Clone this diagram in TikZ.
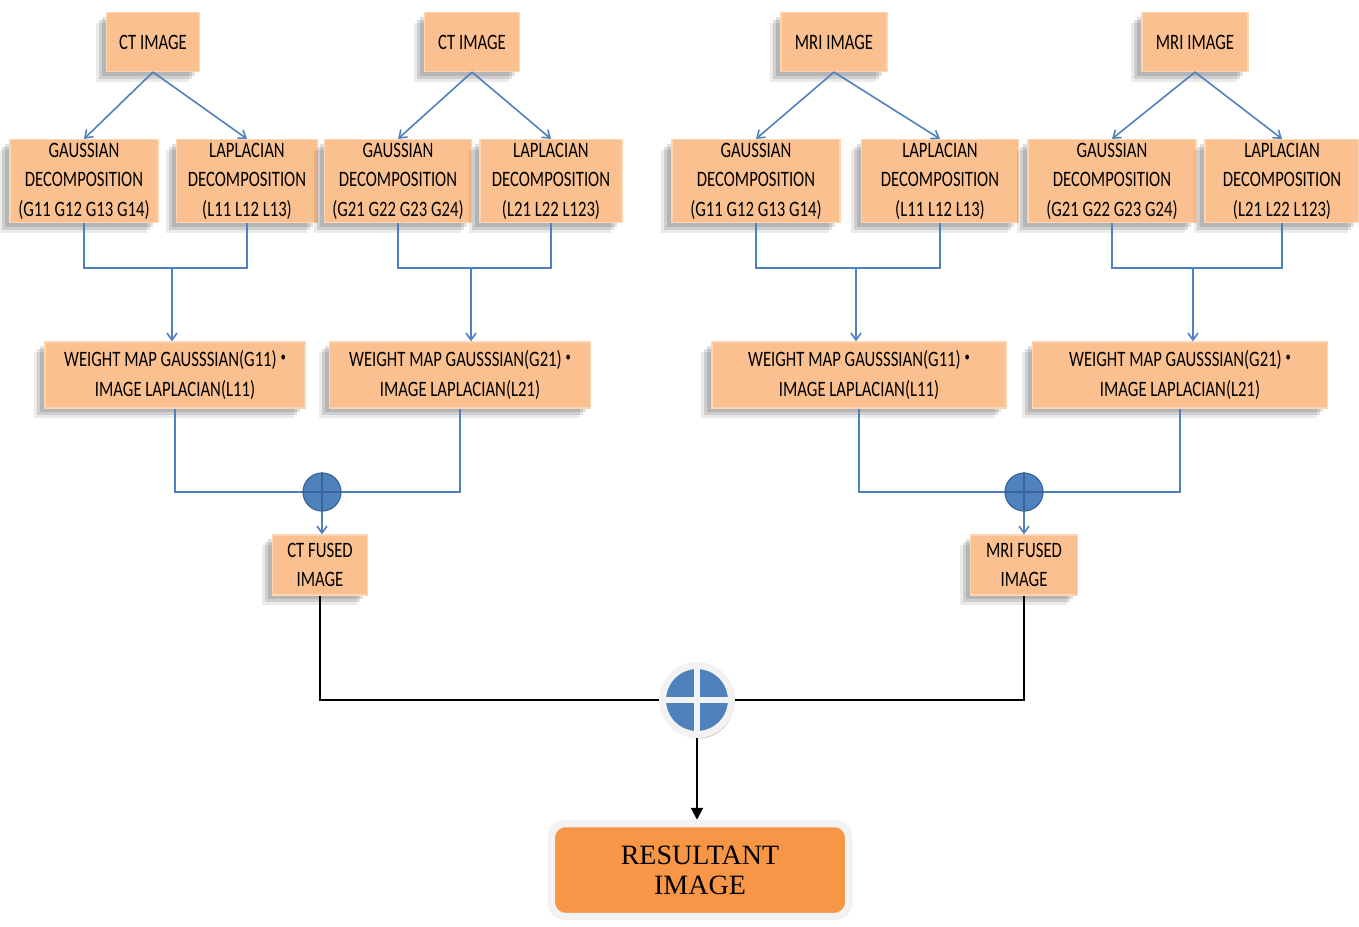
\documentclass[tikz,border=0pt]{standalone}
\usepackage{fontspec}
\usepackage{tikz}
\usetikzlibrary{arrows.meta,positioning,shadows}
\newfontfamily\boxfont{Carlito}[FakeStretch=0.76]
\newfontfamily\resfont{Liberation Serif}
\newcommand{\dotop}{\raisebox{2.5pt}{\fontsize{7}{7}\selectfont\textbullet}}
\definecolor{boxfill}{HTML}{FAC090}
\definecolor{boxedge}{HTML}{FCD5B4}
\definecolor{linkblue}{HTML}{4F81BD}
\definecolor{sumedge}{HTML}{3B6599}
\definecolor{resfill}{HTML}{F79646}
\definecolor{ringgray}{HTML}{F2F2F2}
\definecolor{resshadow}{HTML}{C8A282}

\begin{document}
\begin{tikzpicture}[x=0.5pt, y=-0.5pt, >={Straight Barb[length=3.5pt,width=5pt]},
  every node/.style={font=\boxfont\fontsize{11}{14.8}\selectfont, align=center, inner sep=1pt},
  imgbox/.style={draw=boxedge, fill=boxfill, line width=0.6pt, minimum height=29.5pt,
    drop shadow={shadow xshift=-5.5pt, shadow yshift=-5pt, fill=black, opacity=0.08},
    drop shadow={shadow xshift=-4pt, shadow yshift=-3.5pt, fill=black, opacity=0.12},
    drop shadow={shadow xshift=-2.5pt, shadow yshift=-2pt, fill=black, opacity=0.12}},
  decbox/.style={imgbox, minimum height=41.5pt},
  wbox/.style={imgbox, minimum height=33pt},
  sumnode/.style={circle, draw=sumedge, fill=linkblue, line width=0.6pt, minimum size=19pt},
  link/.style={draw=linkblue, line width=0.8pt},
  fuse/.style={draw=black, line width=1pt}]

  \useasboundingbox (0,0) rectangle (1359,926);

  \node[imgbox, minimum width=46.5pt] (ct1) at (153,42) {CT IMAGE};
  \node[imgbox, minimum width=47.5pt] (ct2) at (472,42) {CT IMAGE};
  \node[imgbox, minimum width=53pt] (mr1) at (834,42) {MRI IMAGE};
  \node[imgbox, minimum width=53pt] (mr2) at (1195,42) {MRI IMAGE};

  \node[decbox, minimum width=74pt] (g1) at (84,181) {GAUSSIAN\\DECOMPOSITION\\(G11 G12 G13 G14)};
  \node[decbox, minimum width=70.5pt] (l1) at (247,181) {LAPLACIAN\\DECOMPOSITION\\(L11 L12 L13)};
  \node[decbox, minimum width=73.5pt] (g2) at (398,181) {GAUSSIAN\\DECOMPOSITION\\(G21 G22 G23 G24)};
  \node[decbox, minimum width=71pt] (l2) at (551,181) {LAPLACIAN\\DECOMPOSITION\\(L21 L22 L123)};
  \node[decbox, minimum width=84pt] (g3) at (756,181) {GAUSSIAN\\DECOMPOSITION\\(G11 G12 G13 G14)};
  \node[decbox, minimum width=78.5pt] (l3) at (940,181) {LAPLACIAN\\DECOMPOSITION\\(L11 L12 L13)};
  \node[decbox, minimum width=84pt] (g4) at (1112,181) {GAUSSIAN\\DECOMPOSITION\\(G21 G22 G23 G24)};
  \node[decbox, minimum width=77pt] (l4) at (1282,181) {LAPLACIAN\\DECOMPOSITION\\(L21 L22 L123)};

  \node[wbox, minimum width=130pt] (w1) at (175,375) {WEIGHT MAP GAUSSSIAN(G11) \dotop\\IMAGE LAPLACIAN(L11)};
  \node[wbox, minimum width=130.5pt] (w2) at (460,375) {WEIGHT MAP GAUSSSIAN(G21) \dotop\\IMAGE LAPLACIAN(L21)};
  \node[wbox, minimum width=147pt] (w3) at (859,375) {WEIGHT MAP GAUSSSIAN(G11) \dotop\\IMAGE LAPLACIAN(L11)};
  \node[wbox, minimum width=147.5pt] (w4) at (1180,375) {WEIGHT MAP GAUSSSIAN(G21) \dotop\\IMAGE LAPLACIAN(L21)};

  \node[sumnode] (s1) at (322,492) {};
  \node[sumnode] (s2) at (1024,492) {};
  \draw[sumedge, line width=0.6pt] (s1.north) -- (s1.south) (s1.west) -- (s1.east);
  \draw[sumedge, line width=0.6pt] (s2.north) -- (s2.south) (s2.west) -- (s2.east);

  \node[imgbox, minimum width=47.5pt, minimum height=30pt] (f1) at (320,565) {CT FUSED\\IMAGE};
  \node[imgbox, minimum width=53.5pt, minimum height=30pt] (f2) at (1024,565) {MRI FUSED\\IMAGE};

  \node[circle, fill=linkblue, draw=ringgray, line width=3.5pt, minimum size=34.5pt,
    drop shadow={shadow xshift=1pt, shadow yshift=-2pt, fill=resshadow, opacity=0.6}] (big) at (697,700) {};
  \draw[ringgray, line width=3pt] (big.north) -- (big.south) (big.west) -- (big.east);

  \node[rounded corners=7pt, fill=resfill, draw=ringgray, line width=3.75pt,
    minimum width=148.75pt, minimum height=46.5pt,
    font=\resfont\fontsize{14}{15}\selectfont,
    drop shadow={shadow xshift=0.5pt, shadow yshift=-1.5pt, fill=resshadow, opacity=1}] (res) at (700,870) {RESULTANT\\IMAGE};

  \coordinate (j1) at (172,268);
  \coordinate (j2) at (471,268);
  \coordinate (j3) at (856,268);
  \coordinate (j4) at (1193,268);

  \draw[link, ->] (ct1.south) -- (g1.north);
  \draw[link, ->] (ct1.south) -- (l1.north);
  \draw[link, ->] (ct2.south) -- (g2.north);
  \draw[link, ->] (ct2.south) -- (l2.north);
  \draw[link, ->] (mr1.south) -- (g3.north);
  \draw[link, ->] (mr1.south) -- (l3.north);
  \draw[link, ->] (mr2.south) -- (g4.north);
  \draw[link, ->] (mr2.south) -- (l4.north);

  \draw[link] (g1.south) |- (j1) -| (l1.south);
  \draw[link] (g2.south) |- (j2) -| (l2.south);
  \draw[link] (g3.south) |- (j3) -| (l3.south);
  \draw[link] (g4.south) |- (j4) -| (l4.south);
  \draw[link, ->] (j1) -- (j1 |- w1.north);
  \draw[link, ->] (j2) -- (j2 |- w2.north);
  \draw[link, ->] (j3) -- (j3 |- w3.north);
  \draw[link, ->] (j4) -- (j4 |- w4.north);

  \draw[link] (w1.south) |- (s1.west);
  \draw[link] (w2.south) |- (s1.east);
  \draw[link] (w3.south) |- (s2.west);
  \draw[link] (w4.south) |- (s2.east);
  \draw[link, ->] (s1.south) -- (f1.north -| s1.south);
  \draw[link, ->] (s2.south) -- (f2.north);

  \draw[fuse] (f1.south) |- (big.west);
  \draw[fuse] (f2.south) |- (big.east);
  \draw[fuse, -{Triangle[length=6pt,width=6pt]}] (big.south) -- (big.south |- res.north);
\end{tikzpicture}
\end{document}
